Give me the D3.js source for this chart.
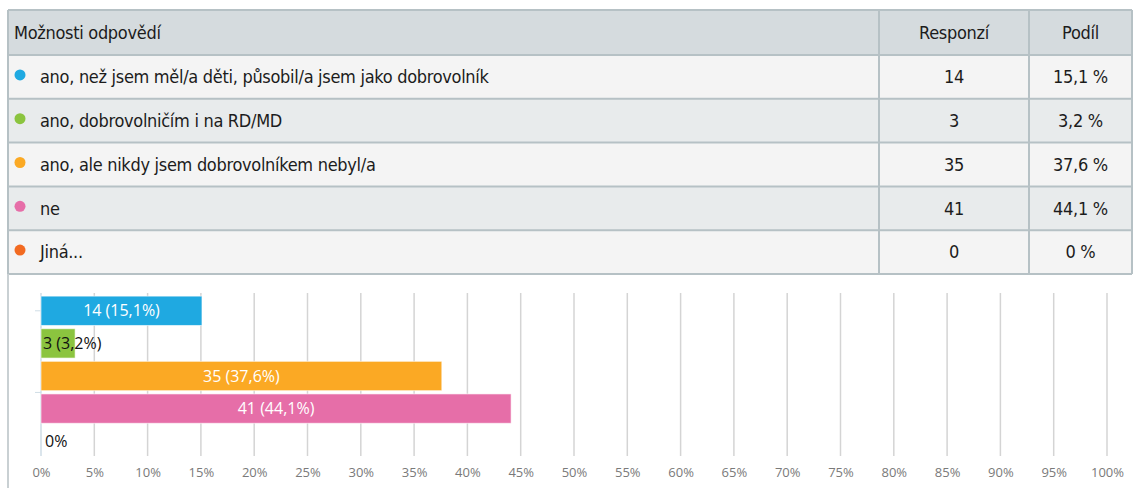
<!DOCTYPE html>
<html>
<head>
<meta charset="utf-8">
<script src="https://cdn.jsdelivr.net/npm/d3@7"></script>
<style>
  body { margin: 0; background: #fff; }
  svg { display: block; }
</style>
</head>
<body>
<div id="chart"></div>
<script>
const options = [
  "ano, než jsem měl/a děti, působil/a jsem jako dobrovolník",
  "ano, dobrovolničím i na RD/MD",
  "ano, ale nikdy jsem dobrovolníkem nebyl/a",
  "ne",
  "Jiná..."
];
const responses = [14, 3, 35, 41, 0];
const shares = [15.1, 3.2, 37.6, 44.1, 0];
const colors = ["#1fa9e1", "#8bc43f", "#fba924", "#e66ea8", "#f26a21"];
const headers = ["Možnosti odpovědí", "Responzí", "Podíl"];
const xTicks = d3.range(0, 101, 5);

const width = 1134;
const height = 488;
const tableFont = "'DejaVu Sans Condensed', sans-serif";
const chartFont = "'Open Sans', sans-serif";

const svg = d3.select("#chart")
  .append("svg")
  .attr("width", width)
  .attr("height", height);

const fmt = v => String(v).replace(".", ",");

// Table
const tLeft = 8, tRight = 1132, tTop = 10, headH = 45, rowH = 43.8;
const col1 = 879, col2 = 1029;
const rowY = i => tTop + headH + i * rowH;

svg.append("rect")
  .attr("x", tLeft).attr("y", tTop)
  .attr("width", tRight - tLeft).attr("height", headH)
  .attr("fill", "#d5dbde");

svg.selectAll("rect.row")
  .data(options)
  .enter()
  .append("rect")
  .attr("class", "row")
  .attr("x", tLeft)
  .attr("y", (d, i) => rowY(i))
  .attr("width", tRight - tLeft)
  .attr("height", rowH)
  .attr("fill", (d, i) => i % 2 ? "#e8ebec" : "#f4f4f4");

const lines = svg.append("g")
  .attr("stroke", "#b6c1c5")
  .attr("stroke-width", 2);

d3.range(options.length + 2).forEach(i => {
  const y = i === 0 ? tTop : rowY(i - 1);
  lines.append("line")
    .attr("x1", tLeft).attr("x2", tRight)
    .attr("y1", y).attr("y2", y);
});
[tLeft, col1, col2, tRight].forEach(x => {
  lines.append("line")
    .attr("x1", x).attr("x2", x)
    .attr("y1", tTop).attr("y2", rowY(options.length));
});

// chart box border
svg.append("line")
  .attr("x1", tLeft).attr("x2", tLeft)
  .attr("y1", rowY(options.length)).attr("y2", height)
  .attr("stroke", "#c9d0d3").attr("stroke-width", 2);

const headerText = svg.append("g")
  .style("font-family", tableFont)
  .style("font-size", "18px")
  .style("letter-spacing", "-0.3px")
  .attr("fill", "#1c1c1c");

headerText.append("text")
  .attr("x", 14).attr("y", tTop + headH / 2)
  .attr("dy", "0.35em")
  .text(headers[0]);
headerText.append("text")
  .attr("x", (col1 + col2) / 2).attr("y", tTop + headH / 2)
  .attr("dy", "0.35em").attr("text-anchor", "middle")
  .text(headers[1]);
headerText.append("text")
  .attr("x", (col2 + tRight) / 2).attr("y", tTop + headH / 2)
  .attr("dy", "0.35em").attr("text-anchor", "middle")
  .text(headers[2]);

const rows = svg.append("g")
  .selectAll("g")
  .data(options)
  .enter()
  .append("g")
  .attr("transform", (d, i) => `translate(0, ${rowY(i) + rowH / 2})`)
  .style("font-family", tableFont)
  .style("font-size", "18px")
  .style("letter-spacing", "-0.3px")
  .attr("fill", "#1c1c1c");

rows.append("circle")
  .attr("cx", 20).attr("cy", -2).attr("r", 5.5)
  .attr("fill", (d, i) => colors[i]);

rows.append("text")
  .attr("x", 40).attr("dy", "0.35em")
  .text(d => d);

rows.append("text")
  .attr("x", (col1 + col2) / 2).attr("dy", "0.35em")
  .attr("text-anchor", "middle")
  .text((d, i) => responses[i]);

rows.append("text")
  .attr("x", (col2 + tRight) / 2).attr("dy", "0.35em")
  .attr("text-anchor", "middle")
  .text((d, i) => fmt(shares[i]) + " %");

// Bar chart
const x = d3.scaleLinear()
  .domain([0, 100])
  .range([41, 1107]);

const y = d3.scaleBand()
  .domain(options)
  .range([294.5, 457.5])
  .paddingInner(0.1)
  .paddingOuter(0.05);

const chart = svg.append("g");

chart.append("g")
  .selectAll("line")
  .data(xTicks)
  .enter()
  .append("line")
  .attr("x1", d => x(d)).attr("x2", d => x(d))
  .attr("y1", 293).attr("y2", 456)
  .attr("stroke", d => d === 0 ? "#cfdde6" : "#d4d4d4")
  .attr("stroke-width", 1.5);

const xAxis = chart.append("g")
  .attr("transform", "translate(0, 458)")
  .call(d3.axisBottom(x).tickValues(xTicks).tickSize(0).tickPadding(10).tickFormat(d => d + "%"));
xAxis.select(".domain").remove();
xAxis.selectAll("text")
  .style("font-family", chartFont)
  .style("font-size", "13px")
  .attr("fill", "#7a7a7a");

// small category ticks
chart.append("g")
  .selectAll("line")
  .data([options[0], options[3]])
  .enter()
  .append("line")
  .attr("x1", 35).attr("x2", 41)
  .attr("y1", (d, i) => i === 0 ? y(d) + y.bandwidth() / 2 : y(d) - 1.5)
  .attr("y2", (d, i) => i === 0 ? y(d) + y.bandwidth() / 2 : y(d) - 1.5)
  .attr("stroke", "#cfdde6");

chart.append("g")
  .selectAll("rect")
  .data(options)
  .enter()
  .append("rect")
  .attr("x", x(0))
  .attr("y", d => y(d))
  .attr("width", (d, i) => x(shares[i]) - x(0))
  .attr("height", y.bandwidth())
  .attr("fill", (d, i) => colors[i])
  .attr("stroke", "#fff")
  .attr("stroke-opacity", 0.6);

chart.append("g")
  .selectAll("text")
  .data(options)
  .enter()
  .append("text")
  .attr("y", d => y(d) + y.bandwidth() / 2)
  .attr("dy", "0.35em")
  .style("font-family", chartFont)
  .style("font-size", "16px")
  .each(function (d, i) {
    const w = x(shares[i]) - x(0);
    const label = responses[i] > 0 ? `${responses[i]} (${fmt(shares[i])}%)` : `${fmt(shares[i])}%`;
    const t = d3.select(this).text(label);
    if (w > 100) {
      t.attr("x", x(0) + w / 2).attr("text-anchor", "middle").attr("fill", "#fff");
    } else {
      t.attr("x", x(0) + (w > 0 ? 2 : 4)).attr("fill", "#111");
    }
  });
</script>
</body>
</html>
